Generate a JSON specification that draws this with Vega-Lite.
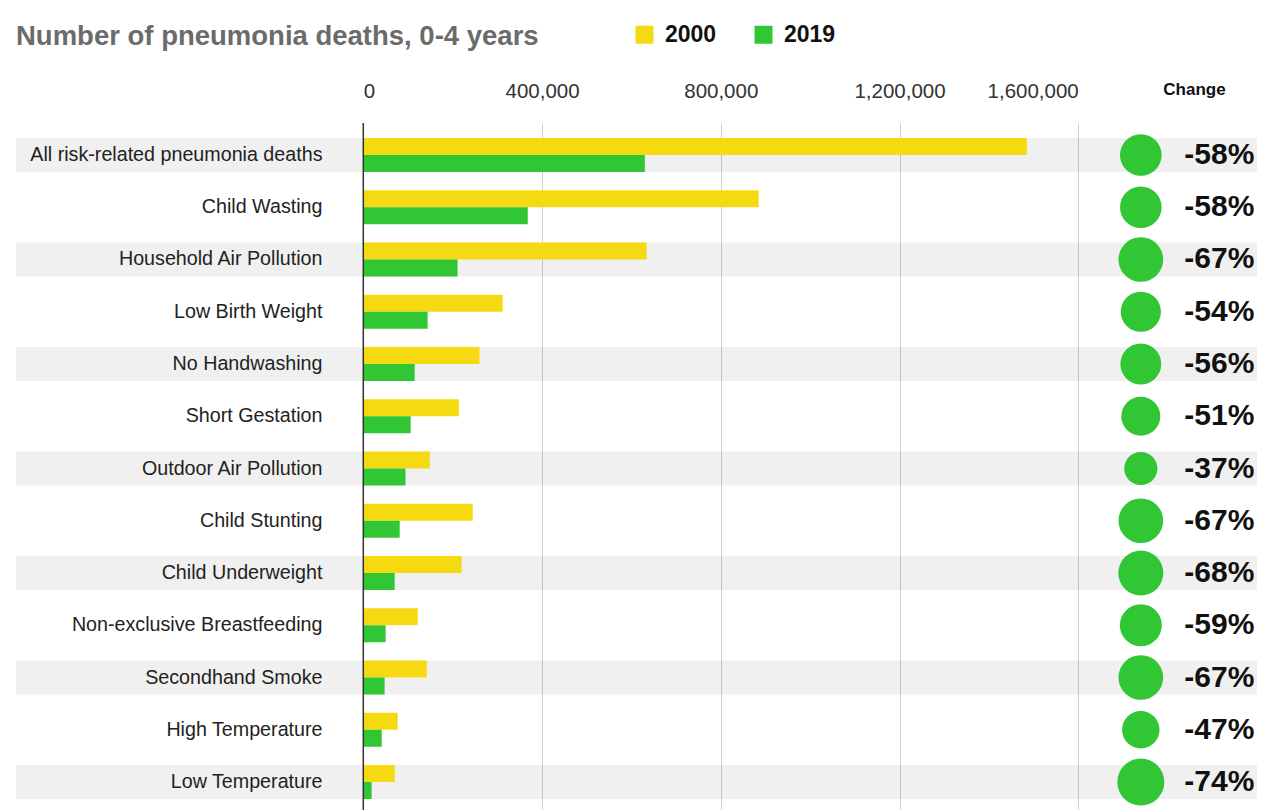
{
  "$schema": "https://vega.github.io/schema/vega-lite/v6.json",
  "autosize": {"type": "none"},
  "padding": {"left": 16, "top": 123, "right": 14, "bottom": 0},
  "width": 1241,
  "height": 687,
  "background": "white",
  "config": {"view": {"stroke": null}, "font": "Liberation Sans"},
  "title": {
    "text": "Number of pneumonia deaths, 0-4 years",
    "anchor": "start",
    "frame": "group",
    "fontSize": 27.5,
    "fontWeight": "bold",
    "color": "#6b6b6b",
    "offset": -27
  },
  "data": {
    "values": [
      {"cause": "All risk-related pneumonia deaths", "2000": 1485000, "2019": 630000, "change": -58},
      {"cause": "Child Wasting", "2000": 885000, "2019": 368000, "change": -58},
      {"cause": "Household Air Pollution", "2000": 634000, "2019": 211000, "change": -67},
      {"cause": "Low Birth Weight", "2000": 312000, "2019": 144000, "change": -54},
      {"cause": "No Handwashing", "2000": 260000, "2019": 115000, "change": -56},
      {"cause": "Short Gestation", "2000": 214000, "2019": 106000, "change": -51},
      {"cause": "Outdoor Air Pollution", "2000": 149000, "2019": 94500, "change": -37},
      {"cause": "Child Stunting", "2000": 245000, "2019": 81500, "change": -67},
      {"cause": "Child Underweight", "2000": 220000, "2019": 70300, "change": -68},
      {"cause": "Non-exclusive Breastfeeding", "2000": 122000, "2019": 50000, "change": -59},
      {"cause": "Secondhand Smoke", "2000": 142000, "2019": 47700, "change": -67},
      {"cause": "High Temperature", "2000": 77000, "2019": 41200, "change": -47},
      {"cause": "Low Temperature", "2000": 70500, "2019": 18700, "change": -74}
    ]
  },
  "layer": [
    {
      "transform": [
        {"window": [{"op": "row_number", "as": "rowNum"}]}
      ],
      "mark": {"type": "rect", "color": "#000000"},
      "encoding": {
        "opacity": {"condition": {"test": "datum.rowNum % 2 == 1", "value": 0.059}, "value": 0},
        "y": {
          "field": "cause",
          "type": "nominal",
          "sort": null,
          "scale": {"type": "band", "paddingInner": 0.3493, "paddingOuter": 0.2486, "align": 0.577},
          "axis": {
            "orient": "left",
            "offset": -306,
            "title": null,
            "ticks": false,
            "tickSize": 0,
            "domain": false,
            "labelPadding": 0,
            "labelFontSize": 19.7,
            "labelColor": "#222222",
            "labelLimit": 0,
            "zindex": 1
          }
        }
      }
    },
    {
      "transform": [{"fold": ["2000", "2019"], "as": ["year", "deaths"]}],
      "mark": {"type": "bar"},
      "encoding": {
        "y": {"field": "cause", "type": "nominal", "sort": null},
        "yOffset": {"field": "year", "type": "nominal"},
        "x": {
          "field": "deaths",
          "type": "quantitative",
          "scale": {"domain": [-777175, 2000000], "nice": false, "zero": false},
          "axis": {
            "orient": "top",
            "values": [0, 400000, 800000, 1200000, 1600000],
            "format": ",.0f",
            "labelFontSize": 20.5,
            "labelColor": "#333333",
            "labelAlign": {
              "condition": [
                {"test": "datum.value == 0", "value": "left"},
                {"test": "datum.value == 1600000", "value": "right"}
              ],
              "value": "center"
            },
            "labelPadding": 22,
            "ticks": false,
            "domain": false,
            "grid": true,
            "gridColor": "#cfcfcf",
            "gridWidth": 1,
            "title": "Change",
            "titleX": 1178,
            "titleY": -34,
            "titleAlign": "center",
            "titleBaseline": "middle",
            "titleFontSize": 17,
            "titleFontWeight": "bold",
            "titleColor": "#111111"
          }
        },
        "color": {
          "field": "year",
          "type": "nominal",
          "scale": {"domain": ["2000", "2019"], "range": ["#F5DA12", "#31C634"]},
          "legend": {
            "title": null,
            "orient": "none",
            "legendX": 617,
            "legendY": -100,
            "direction": "horizontal",
            "symbolType": "square",
            "symbolSize": 324,
            "symbolStrokeWidth": 0,
            "labelFontSize": 23,
            "labelFontWeight": "bold",
            "labelColor": "#111111",
            "labelOffset": 9,
            "columnPadding": 35,
            "padding": 0
          }
        }
      }
    },
    {
      "data": {"values": [{}]},
      "mark": {"type": "rule", "color": "#333333", "strokeWidth": 1.5},
      "encoding": {"x": {"datum": 0}}
    },
    {
      "mark": {"type": "circle", "color": "#31C634", "opacity": 1},
      "encoding": {
        "y": {"field": "cause", "type": "nominal", "sort": null},
        "x": {"datum": 1740000},
        "size": {"field": "change", "type": "quantitative", "scale": {"domain": [0, -74], "range": [0, 2209]}, "legend": null}
      }
    },
    {
      "transform": [{"calculate": "datum.change + '%'", "as": "label"}],
      "mark": {"type": "text", "align": "right", "baseline": "middle", "fontSize": 30, "fontWeight": "bold", "color": "#111111"},
      "encoding": {
        "y": {"field": "cause", "type": "nominal", "sort": null},
        "x": {"datum": 1994000},
        "text": {"field": "label", "type": "nominal"}
      }
    }
  ]
}
